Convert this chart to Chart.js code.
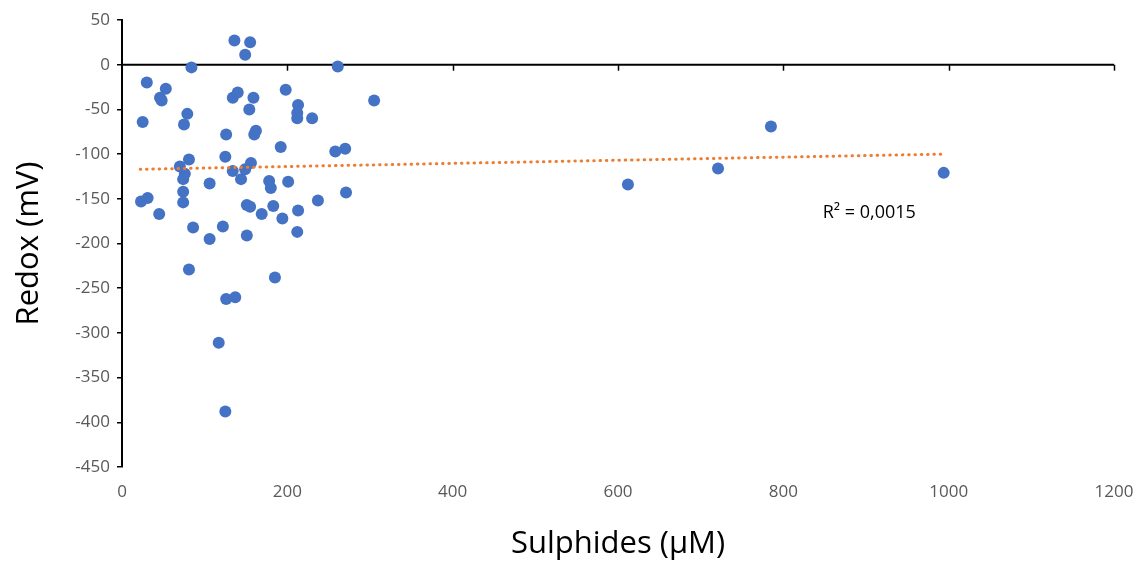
<!DOCTYPE html>
<html>
<head>
<meta charset="utf-8">
<script src="https://cdn.jsdelivr.net/npm/chart.js@4.4.1/dist/chart.umd.min.js"></script>
<style>
  html, body { margin: 0; padding: 0; background: #fff; }
  #wrap { width: 1140px; height: 561px; position: relative; }
</style>
</head>
<body>
<div id="wrap"><canvas id="redoxChart" width="1140" height="561"></canvas></div>
<script>
// values
const sulphides = [23, 31, 25, 30, 46, 48, 53, 45, 84, 70, 81, 76, 74, 74, 74, 79, 75, 86, 81,
    106, 106, 125, 126, 122, 136, 155, 149, 134, 140, 159, 154, 134, 149, 144, 156, 162, 160,
    151, 155, 169, 151, 126, 137, 117, 125, 178, 180, 183, 194, 185, 192, 198, 201, 213, 212,
    212, 230, 213, 212, 237, 258, 270, 271, 261, 305, 612, 721, 785, 994];
const redox = [-153, -149, -64, -20, -37, -40, -27, -167, -3, -114, -106, -122, -128, -142, -154,
    -55, -67, -182, -229, -133, -195, -103, -78, -181, 27, 25, 11, -37, -31, -37, -50, -119,
    -117, -128, -110, -74, -78, -157, -159, -167, -191, -262, -260, -311, -388, -130, -138,
    -158, -172, -238, -92, -28, -131, -45, -54, -60, -60, -163, -187, -152, -97, -94, -143,
    -2, -40, -134, -116, -69, -121];
const trendX = [22, 994];
const trendY = [-117, -100];
const rSquaredLabel = 'R² = 0,0015';

const points = sulphides.map((x, i) => ({ x: x, y: redox[i] }));
const trend = trendX.map((x, i) => ({ x: x, y: trendY[i] }));

// x axis crosses at y = 0 (Excel style), labels stay at the bottom
const zeroAxisPlugin = {
    id: 'zeroAxis',
    beforeDatasetsDraw(chart) {
        const ctx = chart.ctx;
        const xs = chart.scales.x;
        const y0 = chart.scales.y.getPixelForValue(0);
        ctx.save();
        ctx.strokeStyle = '#000';
        ctx.lineWidth = 2;
        ctx.beginPath();
        ctx.moveTo(chart.chartArea.left, y0);
        ctx.lineTo(chart.chartArea.right, y0);
        ctx.stroke();
        ctx.lineWidth = 1.5;
        xs.ticks.forEach(t => {
            if (t.value === 0) return;
            const px = Math.round(xs.getPixelForValue(t.value)) + 0.5;
            ctx.beginPath();
            ctx.moveTo(px, y0);
            ctx.lineTo(px, y0 + 6);
            ctx.stroke();
        });
        ctx.restore();
    },
    afterDatasetsDraw(chart) {
        const ctx = chart.ctx;
        ctx.save();
        ctx.fillStyle = '#000';
        ctx.font = '18px "Open Sans"';
        ctx.textAlign = 'center';
        ctx.textBaseline = 'middle';
        ctx.fillText(rSquaredLabel, chart.scales.x.getPixelForValue(904), chart.scales.y.getPixelForValue(-166));
        ctx.restore();
    }
};

new Chart(document.getElementById('redoxChart'), {
    type: 'scatter',
    data: {
        datasets: [
            {
                label: 'Trend',
                type: 'line',
                data: trend,
                borderColor: '#ED7D31',
                borderWidth: 3,
                borderDash: [0.5, 5.8],
                borderCapStyle: 'round',
                pointRadius: 0,
                fill: false,
                order: 0
            },
            {
                label: 'Redox',
                data: points,
                backgroundColor: '#4472C4',
                borderColor: '#4472C4',
                pointRadius: 6,
                borderWidth: 0,
                order: 1
            }
        ]
    },
    plugins: [zeroAxisPlugin],
    options: {
        responsive: false,
        animation: false,
        devicePixelRatio: 1,
        layout: { padding: { top: 20, right: 26, bottom: 0, left: 0 } },
        plugins: {
            legend: { display: false },
            tooltip: { enabled: false }
        },
        scales: {
            x: {
                type: 'linear',
                min: 0,
                max: 1200,
                ticks: {
                    stepSize: 200, padding: 15, color: '#595959',
                    font: { family: 'Open Sans', size: 17 },
                    callback: v => String(v)
                },
                grid: { display: false, drawTicks: false },
                border: { display: false },
                title: {
                    display: true,
                    text: 'Sulphides (µM)',
                    color: '#000',
                    font: { family: 'Open Sans', size: 31, lineHeight: 1 },
                    padding: { top: 0, bottom: 1 }
                },
                afterFit: function (scale) {
                    scale.height = 94;
                    scale.paddingLeft = 0;
                    scale.paddingRight = 0;
                }
            },
            y: {
                min: -450,
                max: 50,
                ticks: {
                    stepSize: 50, padding: 7, color: '#595959',
                    font: { family: 'Open Sans', size: 17 },
                    callback: v => String(v)
                },
                grid: { drawOnChartArea: false, drawTicks: true, tickLength: 5, color: '#000', lineWidth: 1.5 },
                border: { display: true, color: '#000', width: 2 },
                title: {
                    display: true,
                    text: 'Redox (mV)',
                    color: '#000',
                    font: { family: 'Open Sans', size: 31, lineHeight: 1 },
                    padding: { top: 14, bottom: 0 }
                },
                afterFit: function (scale) {
                    scale.width = 122;
                    scale.paddingTop = 0;
                    scale.paddingBottom = 0;
                }
            }
        }
    }
});
</script>
</body>
</html>
